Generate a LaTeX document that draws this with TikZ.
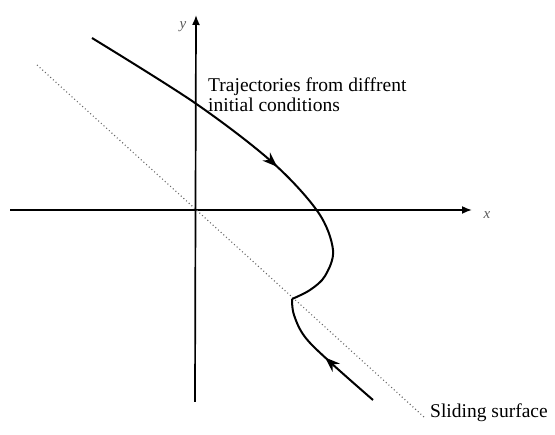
\documentclass[tikz,border=0pt]{standalone}
\usepackage{fontspec}
\setmainfont{Liberation Serif}
\usetikzlibrary{arrows.meta,decorations.markings}
\begin{document}
\begin{tikzpicture}[x=1pt,y=-1pt,
  axisline/.style={line width=1.7pt,-{Latex[length=10pt,width=8pt]}},
  trajline/.style={line width=2pt},
  slide/.style={line width=1.1pt,gray!80!black,dash pattern=on 1pt off 2.6pt},
  axlabel/.style={font=\fontsize{15}{15}\selectfont\itshape,text=gray!70!black,inner sep=0pt},
  txt/.style={font=\fontsize{19.5}{20}\selectfont,inner sep=0pt,align=left}]
\useasboundingbox (0,0) rectangle (555,435);
% axes
\coordinate (xs) at (10,210);
\coordinate (xe) at (472,210);
\coordinate (ys) at (195,402);
\coordinate (ye) at (196,15);
\draw[axisline] (xs) -- (xe);
\draw[axisline] (ys) -- (ye);
\node[axlabel] (ylab) at (183,27) {y};
\node[axlabel] (xlab) at (487,215) {x};
% sliding surface
\coordinate (s1) at (37,65);
\coordinate (s2) at (424,417);
\draw[slide] (s1) -- (s2);
\node[txt,anchor=base west] (sl) at (430,418) {Sliding surface};
% trajectory label
\node[txt,anchor=north west] (tt) at (208,77.5) {Trajectories from diffrent\\initial conditions};
% trajectories
\draw[trajline,postaction={decorate},decoration={markings,
   mark=at position 226pt with {\arrow{Stealth[length=15pt,width=11pt]}}}]
  plot[smooth,tension=0.55] coordinates {(92,38) (195,103) (272,162) (318,212) (333,250) (325,276) (310,290) (292,299)};
\draw[trajline,postaction={decorate},decoration={markings,
   mark=at position 64pt with {\arrow{Stealth[length=15pt,width=11pt]}}}]
  plot[smooth,tension=0.6] coordinates {(373,400) (330,362) (305,337) (294,315) (292,299)};
\end{tikzpicture}
\end{document}
